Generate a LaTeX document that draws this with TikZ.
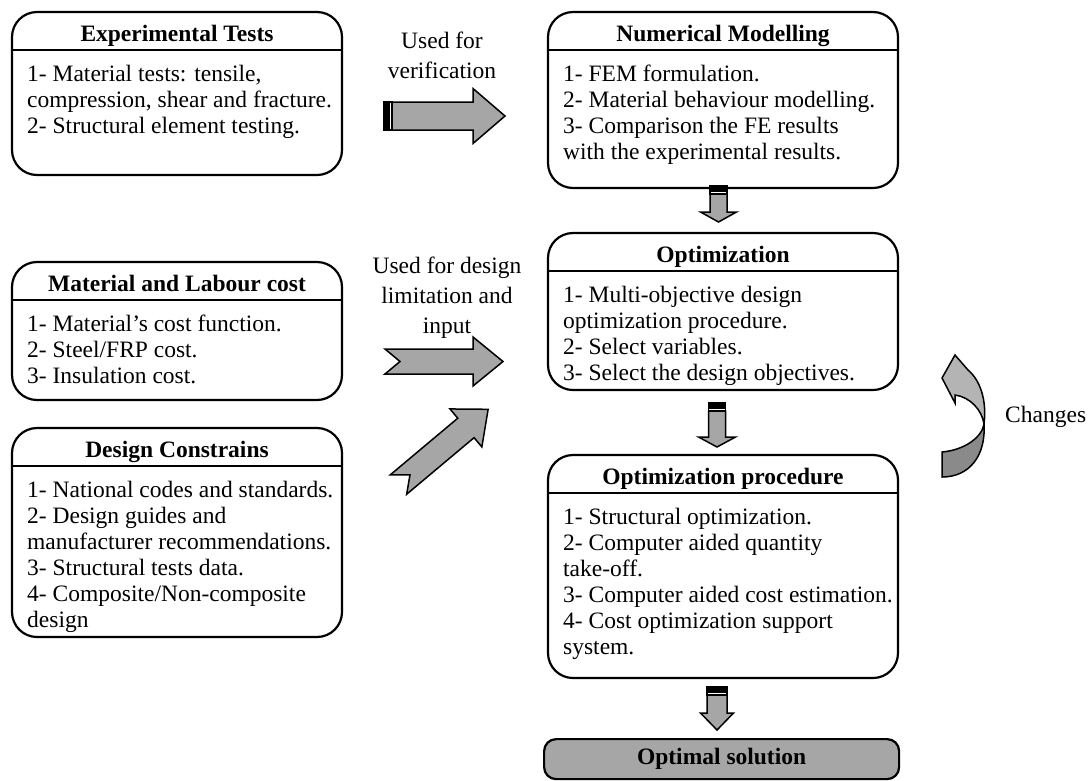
\documentclass[tikz,border=0pt]{standalone}
\usepackage{fontspec}
\setmainfont{Liberation Serif}
\usetikzlibrary{calc}

\definecolor{ArrGray}{HTML}{A6A6A6}
\definecolor{TwistLight}{HTML}{B4B4B4}
\definecolor{TwistDark}{HTML}{8A8A8A}

\tikzset{
	pics/stripearrow/.style n args={4}{code={
		\filldraw[line width=1.2pt] (0,-#2) rectangle (5,#2);
		\draw[line width=1.2pt, fill=white] (5,-#2) rectangle (8,#2);
		\filldraw[fill=ArrGray, line width=1.5pt] (8,-#2) -- ({#1-#4},-#2) -- ({#1-#4},-#3) -- (#1,0)
			-- ({#1-#4},#3) -- ({#1-#4},#2) -- (8,#2) -- cycle;
	}},
	pics/notcharrow/.style n args={4}{code={
		\filldraw[fill=ArrGray, line width=1.5pt] (0,-#2) -- ({#1-#4},-#2) -- ({#1-#4},-#3) -- (#1,0)
			-- ({#1-#4},#3) -- ({#1-#4},#2) -- (0,#2) -- (15,0) -- cycle;
	}},
}

\begin{document}
\begin{tikzpicture}[
		x=1pt, y=-1pt,
		Panel/.style={draw, line width=2.2pt, rounded corners=25pt, anchor=north west,
			inner sep=0pt, outer sep=0pt},
		Head/.style={anchor=base, inner sep=0pt, font=\fontsize{23.5}{26}\selectfont\bfseries},
		Body/.style={anchor=north west, align=left, inner sep=0pt,
			font=\fontsize{23.5}{26}\selectfont},
		Rule/.style={line width=1.8pt},
		Label/.style={align=center, inner sep=0pt, font=\fontsize{23.5}{30}\selectfont},
		SolBox/.style={draw, fill=ArrGray, line width=2.2pt, rounded corners=12pt,
			anchor=north west, inner sep=0pt, font=\fontsize{23.5}{26}\selectfont\bfseries},
		]
		\useasboundingbox (0,0) rectangle (1091,780);
		
		% left column
		\node [Panel, minimum width=330pt, minimum height=163pt] (exp) at (12,12) {};
		\node [Head] (expH) at ([yshift=-29pt]exp.north) {Experimental Tests};
		\draw [Rule] ([yshift=-38pt]exp.north west) -- ([yshift=-38pt]exp.north east);
		\node [Body] (expB) at ([xshift=15pt,yshift=-53pt]exp.north west)
			{1- Material tests: tensile,\\compression, shear and fracture.\\2- Structural element testing.};
		
		\node [Panel, minimum width=330pt, minimum height=138pt] (mat) at (12,262) {};
		\node [Head] (matH) at ([yshift=-29pt]mat.north) {Material and Labour cost};
		\draw [Rule] ([yshift=-38pt]mat.north west) -- ([yshift=-38pt]mat.north east);
		\node [Body] (matB) at ([xshift=15pt,yshift=-53pt]mat.north west)
			{1- Material’s cost function.\\2- Steel/FRP cost.\\3- Insulation cost.};
		
		\node [Panel, minimum width=330pt, minimum height=209pt] (des) at (12,428) {};
		\node [Head] (desH) at ([yshift=-29pt]des.north) {Design Constrains};
		\draw [Rule] ([yshift=-38pt]des.north west) -- ([yshift=-38pt]des.north east);
		\node [Body] (desB) at ([xshift=15pt,yshift=-53pt]des.north west)
			{1- National codes and standards.\\2- Design guides and\\manufacturer recommendations.\\%
			3- Structural tests data.\\4- Composite/Non-composite\\design};
		
		% right column
		\node [Panel, minimum width=350pt, minimum height=176pt] (num) at (548,12) {};
		\node [Head] (numH) at ([yshift=-29pt]num.north) {Numerical Modelling};
		\draw [Rule] ([yshift=-38pt]num.north west) -- ([yshift=-38pt]num.north east);
		\node [Body] (numB) at ([xshift=15pt,yshift=-53pt]num.north west)
			{1- FEM formulation.\\2- Material behaviour modelling.\\3- Comparison the FE results\\%
			with the experimental results.};
		
		\node [Panel, minimum width=350pt, minimum height=157pt] (opt) at (548,233) {};
		\node [Head] (optH) at ([yshift=-29pt]opt.north) {Optimization};
		\draw [Rule] ([yshift=-38pt]opt.north west) -- ([yshift=-38pt]opt.north east);
		\node [Body] (optB) at ([xshift=15pt,yshift=-53pt]opt.north west)
			{1- Multi-objective design\\optimization procedure.\\2- Select variables.\\%
			3- Select the design objectives.};
		
		\node [Panel, minimum width=350pt, minimum height=223pt] (proc) at (548,455) {};
		\node [Head] (procH) at ([yshift=-29pt]proc.north) {Optimization procedure};
		\draw [Rule] ([yshift=-38pt]proc.north west) -- ([yshift=-38pt]proc.north east);
		\node [Body] (procB) at ([xshift=15pt,yshift=-53pt]proc.north west)
			{1- Structural optimization.\\2- Computer aided quantity\\take-off.\\%
			3- Computer aided cost estimation.\\4- Cost optimization support\\system.};
		
		\node [SolBox, minimum width=355pt, minimum height=40pt] (sol) at (543,738) {Optimal solution};
		
		% labels
		\node [Label] (verif) at (442,55) {Used for\\verification};
		\node [Label] (limit) at (447,298) {Used for design\\limitation and\\input};
		\node [Label, anchor=west] (chg) at (1005,417) {Changes};
		
		% block arrows
		\pic at ([xshift=42pt,yshift=-22.5pt]exp.east) {stripearrow={121}{14}{27.5}{32}};
		\pic at ([xshift=43pt,yshift=-30.5pt]mat.east) {notcharrow={118}{12.5}{24.5}{30}};
		\pic [rotate=40] at ([xshift=56.5pt,yshift=48pt]des.east) {notcharrow={117}{12.7}{24.8}{29}};
		\pic [rotate=-90] at ([xshift=-4.5pt,yshift=2pt]num.south) {stripearrow={36}{8.5}{18}{10}};
		\pic [rotate=-90] at ([xshift=-6pt,yshift=-13pt]opt.south) {stripearrow={44}{8.5}{18.5}{10}};
		\pic [rotate=-90] at ([xshift=-6pt,yshift=-9pt]proc.south) {stripearrow={43}{10}{16.5}{17}};
		
		% twisted arrow
		\filldraw [fill=TwistLight, line width=1.5pt] (984,424) .. controls (987,400) and (980,380) .. (968,370)
			-- (955,355) -- (942,378) -- (955,403) -- (955,395)
			.. controls (970,397) and (982,410) .. (984,424) -- cycle;
		\filldraw [fill=TwistDark, line width=1.5pt] (942,452) .. controls (965,450) and (982,437) .. (984,424)
			.. controls (986,455) and (970,477) .. (942,477) -- cycle;
		
\end{tikzpicture}
\end{document}
